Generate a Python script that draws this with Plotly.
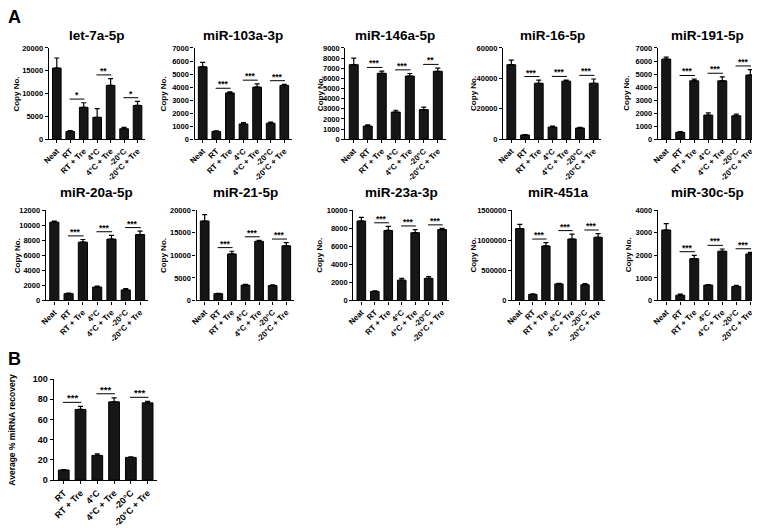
import plotly.graph_objects as go

# page body has an 8px default margin: figure is placed at (8, 8) in the 760x528 window
OFF = 8
W, H = 760 - OFF, 528 - OFF

# ---------------- data ----------------
cats_A = ["Neat", "RT", "RT + Tre", "4°C", "4°C + Tre", "-20°C", "-20°C + Tre"]
cats_B = ["RT", "RT + Tre", "4°C", "4°C + Tre", "-20°C", "-20°C + Tre"]

let7a_mean = [15600, 1700, 7000, 4800, 11800, 2300, 7400]
let7a_err = [2200, 200, 1000, 1900, 1500, 300, 900]
let7a_sig = ["*", "**", "*"]

mir103a_mean = [5550, 600, 3550, 1170, 4000, 1230, 4130]
mir103a_err = [350, 50, 80, 100, 250, 80, 80]
mir103a_sig = ["***", "***", "***"]

mir146a_mean = [7350, 1300, 6500, 2680, 6230, 2920, 6700]
mir146a_err = [650, 120, 220, 180, 250, 250, 320]
mir146a_sig = ["***", "***", "**"]

mir16_mean = [49000, 2800, 36800, 8000, 38200, 7400, 36800]
mir16_err = [3000, 300, 2000, 600, 700, 500, 2800]
mir16_sig = ["***", "***", "***"]

mir191_mean = [6150, 530, 4480, 1850, 4480, 1800, 4920]
mir191_err = [150, 50, 130, 170, 300, 120, 420]
mir191_sig = ["***", "***", "***"]

mir20a_mean = [10400, 900, 7750, 1780, 8150, 1400, 8750]
mir20a_err = [150, 80, 350, 120, 500, 180, 450]
mir20a_sig = ["***", "***", "***"]

mir21_mean = [17600, 1500, 10300, 3400, 13100, 3300, 12100]
mir21_err = [1400, 60, 600, 150, 200, 150, 700]
mir21_sig = ["***", "***", "***"]

mir23a_mean = [8800, 1000, 7750, 2250, 7500, 2450, 7850]
mir23a_err = [400, 70, 450, 200, 350, 180, 120]
mir23a_sig = ["***", "***", "***"]

mir451a_mean = [1195000, 100000, 905000, 275000, 1020000, 260000, 1050000]
mir451a_err = [70000, 8000, 55000, 8000, 80000, 20000, 60000]
mir451a_sig = ["***", "***", "***"]

mir30c_mean = [3120, 230, 1850, 680, 2180, 620, 2060]
mir30c_err = [280, 50, 150, 20, 100, 50, 70]
mir30c_sig = ["***", "***", "***"]

recovery_mean = [10, 70, 24.5, 77.5, 22.5, 76.5]
recovery_err = [0.5, 3, 1.5, 4, 0.5, 1.5]
recovery_sig = ["***", "***", "***"]

titles = ["let-7a-5p", "miR-103a-3p", "miR-146a-5p", "miR-16-5p", "miR-191-5p",
          "miR-20a-5p", "miR-21-5p", "miR-23a-3p", "miR-451a", "miR-30c-5p"]
ymax_A = [20000, 7000, 9000, 60000, 7000, 12000, 20000, 10000, 1500000, 4000]
dtick_A = [5000, 1000, 1000, 20000, 1000, 2000, 5000, 2000, 500000, 1000]

# ---------------- layout (window pixels) ----------------
# (x_left, x_right, y_top, y_bottom, ytitle_x)
boxes_A = [
    (43, 140, 44, 138, 11), (190, 288, 44, 138, 159), (342, 443, 44, 138, 317),
    (501, 600, 44, 138, 471), (657, 758, 44, 138, 626),
    (40, 143, 211, 304, 11), (192, 290, 211, 304, 159), (350, 447, 211, 304, 316),
    (510, 604, 211, 304, 471), (657, 758, 211, 304, 627),
]
title_y = [31, 31, 31, 31, 31, 193, 193, 193, 193, 193]
box_B = (48, 152, 385, 489, 6)

panels = [
    (let7a_mean, let7a_err, let7a_sig), (mir103a_mean, mir103a_err, mir103a_sig),
    (mir146a_mean, mir146a_err, mir146a_sig), (mir16_mean, mir16_err, mir16_sig),
    (mir191_mean, mir191_err, mir191_sig), (mir20a_mean, mir20a_err, mir20a_sig),
    (mir21_mean, mir21_err, mir21_sig), (mir23a_mean, mir23a_err, mir23a_sig),
    (mir451a_mean, mir451a_err, mir451a_sig), (mir30c_mean, mir30c_err, mir30c_sig),
]

FONT = "Liberation Sans, Arial, Helvetica, sans-serif"
BAR = "#161616"


def px(p):
    return (p - OFF) / W


def py(p):
    return 1 - (p - OFF) / H


fig = go.Figure()
layout = {}
annotations = []
shapes = []


def add_panel(k, cats, mean, err, sig, ymax, dtick, box, pairs, xsize, ysize, ttl_size,
              title=None, ty=None, ytitle="Copy No."):
    xl, xr, yt, yb, ytx = box
    sfx = "" if k == 1 else str(k)
    xa, ya = "x" + sfx, "y" + sfx
    xpos = list(range(len(cats)))
    fig.add_trace(go.Bar(
        x=xpos, y=mean, width=0.64, xaxis=xa, yaxis=ya,
        marker=dict(color=BAR, line=dict(color="black", width=1)),
        error_y=dict(type="data", array=err, arrayminus=[0] * len(err), symmetric=False,
                     color="black", thickness=1.2, width=2.5),
        showlegend=False, hoverinfo="skip",
    ))
    n = len(cats)
    layout["xaxis" + sfx] = dict(
        domain=[px(xl), px(xr)], anchor=ya, range=[-0.6, n - 1 + 0.55],
        tickvals=xpos, ticktext=cats, tickangle=-45,
        tickfont=dict(family=FONT, size=xsize, color="black", weight="bold"),
        showline=True, linecolor="black", linewidth=1.3, ticks="outside", ticklen=3,
        tickwidth=1.2, tickcolor="black", showgrid=False, zeroline=False, fixedrange=True,
    )
    layout["yaxis" + sfx] = dict(
        domain=[py(yb), py(yt)], anchor=xa, range=[0, ymax], dtick=dtick, tick0=0,
        tickformat="d",
        tickfont=dict(family=FONT, size=ysize, color="black", weight="bold"),
        showline=True, linecolor="black", linewidth=1.3, ticks="outside", ticklen=3,
        tickwidth=1.2, tickcolor="black", showgrid=False, zeroline=False, fixedrange=True,
    )
    if title:
        annotations.append(dict(
            text=title, x=px((xl + xr) / 2), y=py(ty), xref="paper", yref="paper",
            showarrow=False, xanchor="center", yanchor="middle",
            font=dict(family=FONT, size=13.5, color="black", weight="bold")))
    annotations.append(dict(
        text=ytitle, x=px(ytx), y=py((yt + yb) / 2), xref="paper", yref="paper",
        showarrow=False, textangle=-90, xanchor="center", yanchor="middle",
        font=dict(family=FONT, size=ttl_size, color="black", weight="bold")))
    for (i, j), s in zip(pairs, sig):
        top = max(mean[i] + err[i], mean[j] + err[j]) + 0.04 * ymax
        shapes.append(dict(type="line", xref=xa, yref=ya, x0=i - 0.05, x1=j + 0.05,
                           y0=top, y1=top, line=dict(color="black", width=1)))
        annotations.append(dict(
            text=s, x=(i + j) / 2, y=top, xref=xa, yref=ya, showarrow=False,
            xanchor="center", yanchor="bottom", yshift=-3,
            font=dict(family=FONT, size=xsize + 0.5, color="black", weight="bold")))


pairs_A = [(1, 2), (3, 4), (5, 6)]
for idx, (m, e, s) in enumerate(panels):
    add_panel(idx + 1, cats_A, m, e, s, ymax_A[idx], dtick_A[idx], boxes_A[idx], pairs_A,
              8, 7.5, 8, titles[idx], title_y[idx])

add_panel(11, cats_B, recovery_mean, recovery_err, recovery_sig, 100, 20, box_B,
          [(0, 1), (2, 3), (4, 5)], 9, 9, 8.5, ytitle="Average % miRNA recovery")

for letter, (lx, ly) in [("A", (8, 12)), ("B", (8, 364))]:
    annotations.append(dict(
        text=letter, x=px(lx), y=py(ly), xref="paper", yref="paper", showarrow=False,
        xanchor="center", yanchor="middle",
        font=dict(family=FONT, size=18, color="black", weight="bold")))

fig.update_layout(
    width=W, height=H, margin=dict(l=0, r=0, t=0, b=0),
    paper_bgcolor="white", plot_bgcolor="white",
    annotations=annotations, shapes=shapes, bargap=0.3,
    **layout,
)

fig.write_html("out.html")
